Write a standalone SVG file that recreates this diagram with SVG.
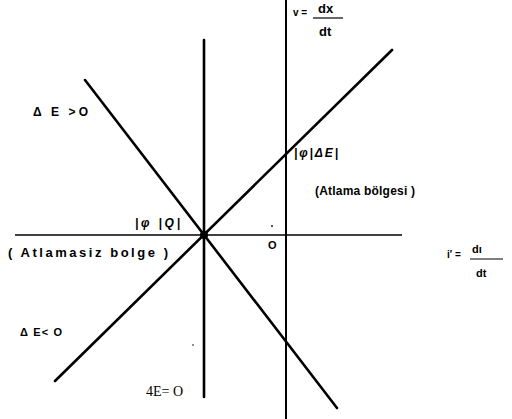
<svg xmlns="http://www.w3.org/2000/svg" width="512" height="419" viewBox="0 0 512 419">
<style>
.ln{stroke:#000;stroke-width:2.6;fill:none;stroke-linecap:round}
.ax{stroke:#000;stroke-width:1.6;fill:none}
.t{font-family:"Liberation Sans",Arial,sans-serif;font-weight:bold;font-size:11px;fill:#000}
.s{font-family:"Liberation Serif","Times New Roman",serif;font-size:14px;fill:#000}
</style>
<rect width="512" height="419" fill="#fff"/>
<g id="connectors">
<line class="ax" x1="15" y1="235" x2="402" y2="235"/>
<line class="ln" x1="204" y1="40" x2="204" y2="397"/>
<line class="ax" x1="286" y1="0" x2="286" y2="419" style="stroke-width:2"/>
<line class="ln" x1="85" y1="80" x2="337" y2="408"/>
<line class="ln" x1="55" y1="381" x2="392" y2="50"/>
<circle cx="204" cy="235" r="4" fill="#000"/>
</g>
<g id="label-v">
<text class="t" x="293" y="16" style="font-size:10px">v =</text>
<text class="t" x="318" y="13" style="font-size:13px">dx</text>
<line x1="313" y1="18" x2="343" y2="18" stroke="#000" stroke-width="1.2"/>
<text class="t" x="319" y="36" style="font-size:13px">dt</text>
</g>
<g id="label-dEpos"><text class="t" x="33" y="116" style="font-size:12px" textLength="55" lengthAdjust="spacing">Δ E &gt;O</text></g>
<g id="label-phidE"><text class="t" x="294" y="157" style="font-size:12px;font-style:italic" textLength="44" lengthAdjust="spacing">|φ|ΔE|</text></g>
<g id="label-atlama"><text class="t" x="315" y="195" style="font-size:12px" textLength="100" lengthAdjust="spacing">(Atlama  bölgesi )</text></g>
<g id="label-phiQ"><text class="t" x="135" y="227" style="font-size:12px;font-style:italic" textLength="45" lengthAdjust="spacing">|φ |Q|</text></g>
<g id="label-atlamasiz"><text class="t" x="8" y="257" style="font-size:13px" textLength="160" lengthAdjust="spacing">( Atlamasiz  bolge )</text></g>
<g id="label-O"><text class="t" x="268" y="249">O</text><circle cx="272" cy="226" r="0.9" fill="#000"/></g>
<g id="label-i">
<text class="t" x="447" y="258" style="font-size:10px">i′ =</text>
<text class="t" x="472" y="253">dı</text>
<line x1="470" y1="259" x2="503" y2="259" stroke="#000" stroke-width="1.2"/>
<text class="t" x="476" y="277">dt</text>
</g>
<g id="label-dEneg"><text class="t" x="20" y="336" textLength="42" lengthAdjust="spacing">Δ E&lt; O</text></g>
<g id="label-dE0"><text class="s" x="146" y="396">4E= O</text><circle cx="193" cy="345" r="0.8" fill="#000"/></g>
</svg>
